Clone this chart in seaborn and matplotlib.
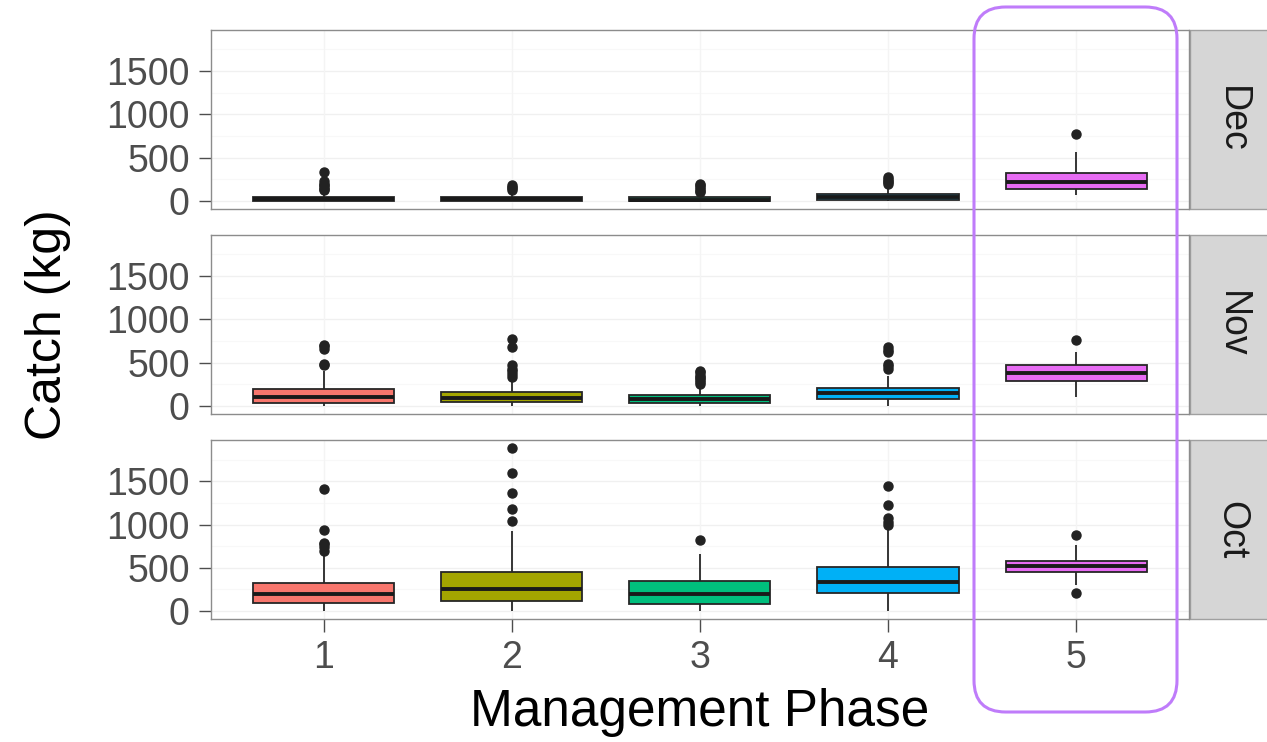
import numpy as np
import pandas as pd
import matplotlib.pyplot as plt
from matplotlib.patches import Rectangle, FancyBboxPatch
import seaborn as sns

# values (kg), one entry per management phase
phases = ["1", "2", "3", "4", "5"]
months = ["Dec", "Nov", "Oct"]
colors = ["#F8766D", "#A3A500", "#00BF7D", "#00B0F6", "#E76BF3"]

dec_low = [0, 0, 0, 0, 70]
dec_q1 = [5, 5, 3, 15, 135]
dec_med = [20, 25, 15, 50, 219]
dec_q3 = [50, 50, 40, 85, 327]
dec_high = [110, 100, 90, 170, 570]
dec_out = [[125, 140, 160, 180, 200, 230, 340], [125, 145, 165, 185],
           [100, 120, 140, 160, 180, 200], [195, 215, 235, 255, 275], [775]]

nov_low = [0, 0, 0, 0, 110]
nov_q1 = [39, 46, 39, 85, 289]
nov_med = [104, 97, 77, 147, 386]
nov_q3 = [193, 162, 124, 208, 470]
nov_high = [400, 300, 230, 350, 620]
nov_out = [[470, 490, 660, 690, 710], [340, 370, 400, 430, 470, 680, 770],
           [260, 280, 300, 320, 340, 360, 390, 410], [430, 460, 480, 620, 650, 680], [760]]

oct_low = [0, 0, 0, 0, 300]
oct_q1 = [92, 115, 77, 204, 450]
oct_med = [193, 250, 196, 331, 523]
oct_q3 = [323, 447, 350, 512, 581]
oct_high = [660, 930, 660, 935, 760]
oct_out = [[700, 740, 770, 790, 940, 1410], [1040, 1180, 1360, 1600, 1880],
           [820], [990, 1030, 1070, 1230, 1450], [205, 875]]

stats = {
    "Dec": (dec_low, dec_q1, dec_med, dec_q3, dec_high, dec_out),
    "Nov": (nov_low, nov_q1, nov_med, nov_q3, nov_high, nov_out),
    "Oct": (oct_low, oct_q1, oct_med, oct_q3, oct_high, oct_out),
}

# long table whose quartiles / whiskers / outliers reproduce the read values
rows = []
for m in months:
    lo, q1, md, q3, hi, out = stats[m]
    for i, p in enumerate(phases):
        vals = [lo[i]] + [q1[i]] * 40 + [md[i]] * 40 + [q3[i]] * 40 + [hi[i]] + out[i]
        rows += [(m, p, v) for v in vals]
df = pd.DataFrame(rows, columns=["Month", "Phase", "Catch"])

sns.set_style("white")
plt.rcParams["font.family"] = ["Liberation Sans", "DejaVu Sans"]

fig, axes = plt.subplots(3, 1, figsize=(12.67, 7.42), dpi=100, sharex=True)
fig.subplots_adjust(left=0.1663, right=0.9385, top=0.9596, bottom=0.1654, hspace=0.145)

for ax, m in zip(axes, months):
    ax.set_axisbelow(True)
    for y in [0, 500, 1000, 1500]:
        ax.axhline(y, color="#F0F0F0", lw=1, zorder=0)
    for y in [250, 750, 1250, 1750]:
        ax.axhline(y, color="#F8F8F8", lw=0.8, zorder=0)
    for x in range(5):
        ax.axvline(x, color="#F4F4F4", lw=1, zorder=0)
    sns.boxplot(data=df[df.Month == m], x="Phase", y="Catch", hue="Phase",
                order=phases, hue_order=phases, palette=colors, legend=False,
                saturation=1, width=0.75, linewidth=1.3, linecolor="#262626",
                showcaps=False, whis=1.5,
                flierprops=dict(marker="o", markerfacecolor="#222222",
                                markeredgecolor="#222222", markersize=6.5),
                medianprops=dict(linewidth=2.8, color="#1a1a1a"), ax=ax)
    ax.set_xlim(-0.6, 4.6)
    ax.set_ylim(-94, 1974)
    ax.set_yticks([0, 500, 1000, 1500])
    ax.set_xlabel("")
    ax.set_ylabel("")
    for s in ax.spines.values():
        s.set_visible(True)
        s.set_color("#8C8C8C")
        s.set_linewidth(1)
    ax.tick_params(axis="y", labelsize=27, labelcolor="#4D4D4D", color="#4D4D4D",
                   length=9, width=1, pad=6, left=True)
    ax.tick_params(axis="x", bottom=False, labelbottom=False)
    # facet strip
    ax.add_patch(Rectangle((1.001, 0), 0.085, 1, transform=ax.transAxes,
                           facecolor="#D6D6D6", edgecolor="#A0A0A0", lw=1, clip_on=False))
    ax.text(1.0435, 0.5, m, transform=ax.transAxes, rotation=270,
            ha="center", va="center", fontsize=27, color="#1A1A1A")

axes[-1].tick_params(axis="x", bottom=True, labelbottom=True, labelsize=27,
                     labelcolor="#4D4D4D", color="#4D4D4D", length=9, width=1, pad=6)

fig.text(0.038, 0.5627, "Catch (kg)", rotation=90, ha="center", va="center",
         fontsize=36, color="black")
fig.text(0.5525, 0.04, "Management Phase", ha="center", va="center",
         fontsize=37, color="black")

# highlight around phase 5
fig.patches.append(FancyBboxPatch((974 / 1267, 1 - 712 / 742), 203 / 1267, 705 / 742,
                                  boxstyle="round,pad=0,rounding_size=0.025",
                                  transform=fig.transFigure, facecolor="none",
                                  edgecolor="#BF7CFA", lw=2.2, figure=fig,
                                  mutation_aspect=1267 / 742))

fig.savefig("out.png", dpi=100)
